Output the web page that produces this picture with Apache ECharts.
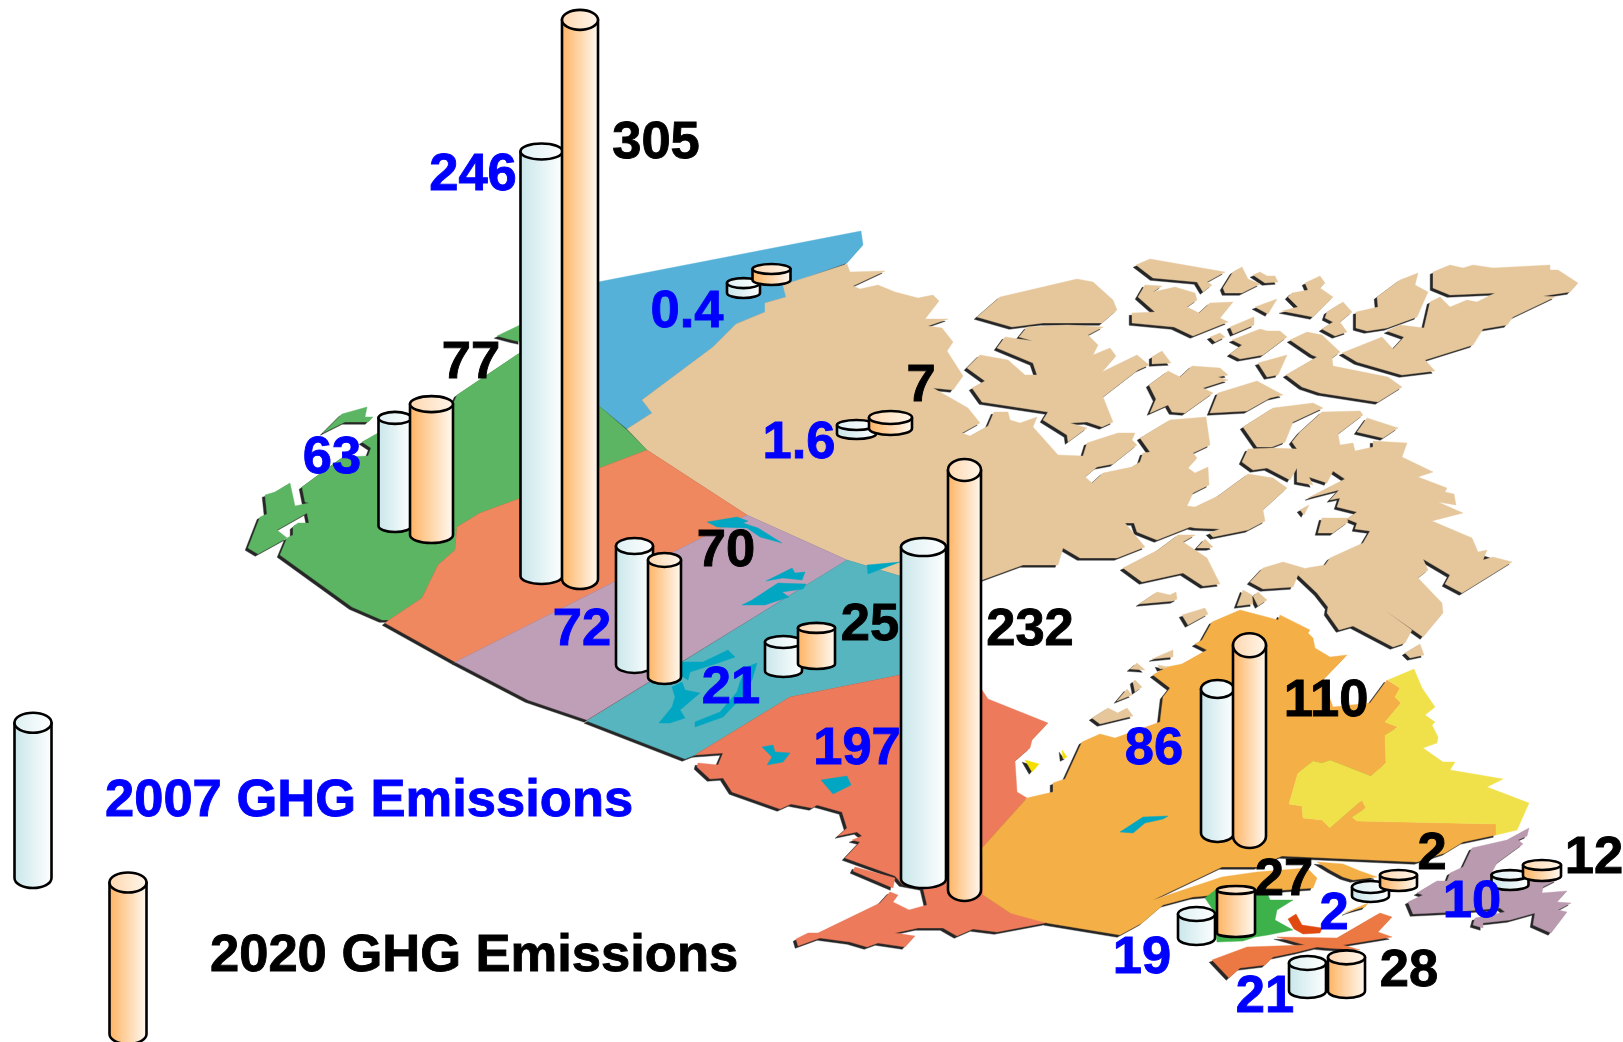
<!DOCTYPE html>
<html>
<head>
<meta charset="utf-8">
<style>html,body{margin:0;padding:0;background:#fff}#c{width:1623px;height:1042px}</style>
<script src="https://cdn.jsdelivr.net/npm/echarts@6/dist/echarts.min.js"></script>
</head>
<body>
<div id="c"></div>
<script>
// ---------- chart data ----------
const regions   = ['BC','AB','SK','MB','ON','QC','NB','NS','PE','NL','NT','YT'];
const values2007 = [63,246,72,21,197,86,19,21,2,10,1.6,0.4];
const values2020 = [77,305,70,25,232,110,27,28,2,12,7,null];
// Cylinder heights as they are drawn in the picture (the artwork is not strictly proportional)
const drawn2007 = [57.8,227,63.6,15.5,177.5,77,12.8,15,4.8,5.3,4.8,5.3];
const drawn2020 = [70,299,62.6,19.3,224.6,102,23,18,5.9,5.9,5.9,5.9];
const legendLabels = ['2007 GHG Emissions','2020 GHG Emissions'];
const legendDrawn = [83,81];

// ---------- layout on the map plane ----------
const cyl2007 = {x:[395,541.5,634.5,783.5,923.5,1217.5,1196.5,1307.5,1370.5,1510,856.5,743.5],
                 y:[532,584,673,677,888,842,945,998,902,890,439,298],
                 w:[33,42,37,37,45,33,37,37,37,37,39,33],
                 ry:[6,8,8,6,9,9,7,7,6,5,5,5]};
const cyl2020 = {x:[431.5,580,664.5,816.5,964.5,1249.5,1236,1346.5,1398.5,1542,890.5,771.5],
                 y:[543,589,684,669,901,848,937,998,891,881,435,285],
                 w:[43,36,33,37,33,33,38,37,37,38,43,38],
                 ry:[8,10,7,5,11,12,4,7,5,5,6.5,5]};
const lab2007 = {x:[332,473,582,731,857,1154,1142,1265,1334,1472,799,687],
                 y:[459,176,631,689,750,750,959,998,915,903,444,313]};
const lab2020 = {x:[471,656,726,870,1030,1326,1284,1409,1432,1594,921,0],
                 y:[364,144,552,626,631,702,881,972,855,859,387,0]};
const legendCyl = {x:[33,128], y:[888,1044], w:[37,37], ry:[10,10]};
const legendText = {x:[105,210], y:[802,957]};

// ---------- map outlines ----------
const bc = [[280,555],[352,607],[382,620],[389,620],[422,598],[438,565],[455,550],[457,527],[480,513],[521,498],[647,450],[627,430],[598,405],[560,370],[521,352],[457,395],[454,402],[378,433],[362,442],[371,448],[368,456],[343,457],[302,487],[305,502],[309,503],[295,506],[290,483],[275,492],[265,495],[267,514],[260,517],[248,548],[258,554],[287,538],[277,530],[307,513],[309,523],[298,523],[293,527],[293,535],[287,538]];
const bcIsland1 = [[367,407],[365,417],[373,417],[368,422],[345,422],[323,433],[338,418],[342,414]];
const bcIsland2 = [[497,336],[520,325],[521,342],[512,340]];
const yukon = [[861,231],[863,245],[847,263],[785,285],[786,297],[765,303],[765,312],[736,324],[713,347],[642,400],[652,413],[627,429],[598,405],[580,400],[580,285],[598,282]];
const alberta = [[389,620],[422,598],[438,565],[455,550],[457,527],[480,513],[521,498],[647,450],[747,515],[455,662],[385,623]];
const sask = [[455,662],[747,515],[847,560],[587,720],[528,700]];
const manitoba = [[587,721],[847,560],[867,566],[900,576],[945,585],[945,670],[900,675],[790,697],[695,755],[685,759]];
const ontario = [[695,755],[723,753],[718,765],[698,763],[697,767],[710,779],[723,778],[732,792],[780,809],[791,804],[812,808],[817,805],[842,812],[847,828],[838,836],[857,832],[862,836],[852,840],[860,842],[845,858],[895,876],[902,884],[923,888],[927,905],[909,910],[893,902],[898,895],[890,892],[880,903],[818,933],[808,933],[796,939],[798,946],[820,938],[850,942],[867,947],[878,943],[905,947],[915,936],[895,933],[918,928],[943,928],[957,936],[973,929],[997,932],[1045,923],[1048,917],[1010,913],[983,895],[982,848],[1027,798],[1017,792],[1015,761],[1030,748],[1032,740],[1048,723],[988,699],[982,690],[960,660],[900,675],[790,697]];
const ontarioSliver = [[855,867],[895,878],[893,888],[853,871]];
const quebec = [[982,848],[1027,798],[1053,792],[1053,783],[1065,779],[1082,742],[1100,734],[1115,738],[1160,722],[1163,697],[1170,688],[1153,675],[1167,667],[1182,664],[1207,650],[1195,644],[1202,640],[1212,622],[1240,610],[1278,620],[1280,615],[1310,630],[1308,633],[1313,638],[1315,648],[1330,657],[1347,655],[1323,680],[1333,707],[1370,703],[1387,680],[1400,688],[1395,697],[1401,703],[1385,722],[1398,727],[1385,735],[1386,763],[1371,776],[1330,760],[1322,763],[1313,761],[1298,773],[1289,804],[1302,806],[1303,818],[1322,820],[1330,828],[1362,800],[1366,808],[1352,817],[1357,821],[1496,824],[1496,835],[1463,842],[1445,853],[1417,862],[1282,856],[1257,867],[1222,867],[1153,900],[1222,877],[1257,872],[1307,868],[1317,878],[1313,888],[1255,892],[1215,895],[1193,897],[1163,905],[1142,923],[1120,935],[1047,923],[1010,913],[983,895]];
const gaspe1 = [[1317,862],[1343,864],[1360,871],[1377,877],[1353,880],[1343,877],[1330,870]];
const gaspe2 = [[1345,913],[1368,903],[1365,907],[1347,912]];
const labrador = [[1388,680],[1414,669],[1422,688],[1435,707],[1425,715],[1435,722],[1432,725],[1438,737],[1437,743],[1423,748],[1443,762],[1455,762],[1450,770],[1503,779],[1487,787],[1529,803],[1517,830],[1496,835],[1496,824],[1357,821],[1352,817],[1366,808],[1362,800],[1330,828],[1322,820],[1303,818],[1302,806],[1289,804],[1298,773],[1313,761],[1322,763],[1330,760],[1371,776],[1386,763],[1385,735],[1398,727],[1385,722],[1401,703],[1395,697],[1400,688]];
const newfoundland = [[1472,848],[1507,840],[1529,828],[1527,836],[1518,840],[1523,844],[1497,863],[1492,872],[1523,877],[1557,880],[1543,887],[1542,893],[1567,891],[1557,902],[1571,903],[1558,910],[1567,912],[1551,933],[1533,925],[1535,913],[1510,920],[1483,923],[1483,928],[1473,925],[1475,918],[1505,912],[1500,908],[1455,912],[1413,914],[1408,902],[1423,895],[1417,893],[1437,881],[1447,881],[1450,873],[1463,867]];
const newBrunswick = [[1205,898],[1218,888],[1255,895],[1268,895],[1270,900],[1293,900],[1277,910],[1275,920],[1293,930],[1268,935],[1255,937],[1243,941],[1217,942],[1213,910]];
const novaScotia = [[1212,960],[1247,947],[1305,945],[1277,937],[1337,938],[1380,913],[1392,917],[1378,932],[1392,937],[1343,945],[1360,950],[1327,948],[1317,947],[1297,952],[1273,957],[1265,965],[1240,968],[1229,978]];
const pei = [[1288,919],[1296,914],[1302,925],[1322,928],[1320,933],[1303,934],[1294,929]];
const yellowBits = [[[1025,760],[1039,764],[1032,772]],[[1062,750],[1067,757],[1063,759]]];
const tanMain = [[627,429],[652,413],[642,400],[713,347],[736,324],[765,312],[765,303],[786,297],[783,285],[847,264],[850,272],[885,271],[853,286],[860,289],[878,285],[895,292],[918,298],[933,295],[939,301],[925,319],[948,319],[928,326],[942,328],[953,342],[947,351],[963,376],[953,390],[933,388],[968,408],[980,423],[962,433],[970,436],[988,426],[994,412],[1008,412],[1010,420],[1020,423],[1037,417],[1033,427],[1058,455],[1083,456],[1087,443],[1118,433],[1135,433],[1132,440],[1137,445],[1113,464],[1097,467],[1085,477],[1092,483],[1103,473],[1132,467],[1140,462],[1143,453],[1150,452],[1140,438],[1170,420],[1206,417],[1210,445],[1193,453],[1197,458],[1188,468],[1195,473],[1208,467],[1209,485],[1193,493],[1187,506],[1195,507],[1218,496],[1248,474],[1273,478],[1287,488],[1263,510],[1265,521],[1248,530],[1213,537],[1209,533],[1220,529],[1195,528],[1190,527],[1157,540],[1137,532],[1134,523],[1125,523],[1145,547],[1117,558],[1080,558],[1063,548],[1058,565],[1023,565],[982,580],[900,576],[867,566],[847,560],[747,515],[647,450]];
const baffin = [[1242,462],[1248,449],[1273,448],[1297,449],[1292,442],[1300,432],[1322,412],[1360,411],[1363,415],[1338,434],[1340,445],[1353,443],[1355,451],[1373,447],[1373,441],[1407,443],[1402,457],[1433,472],[1418,477],[1447,488],[1445,492],[1454,494],[1456,505],[1438,502],[1463,513],[1432,521],[1472,538],[1478,552],[1487,550],[1483,560],[1493,557],[1512,562],[1462,593],[1445,584],[1450,575],[1423,559],[1428,570],[1418,578],[1442,603],[1443,613],[1423,637],[1383,609],[1412,630],[1405,643],[1393,647],[1353,626],[1339,630],[1327,613],[1328,607],[1317,593],[1298,575],[1307,568],[1325,565],[1330,558],[1363,543],[1370,531],[1355,529],[1357,523],[1347,519],[1357,512],[1337,507],[1340,498],[1330,500],[1339,490],[1308,498],[1345,479],[1333,471],[1327,483],[1309,477],[1313,485],[1297,482],[1297,468],[1290,480],[1267,468],[1253,470]];
// Baffin's shadow: the zigzag east coast casts almost none in the artwork
const baffinShadow = [[1242,462],[1248,449],[1273,448],[1297,449],[1292,442],[1300,432],[1322,412],[1360,411],[1363,415],[1338,434],[1340,445],[1353,443],[1355,451],[1373,447],[1373,441],[1407,443],[1402,457],[1410,480],[1425,510],[1428,525],[1460,545],[1512,562],[1462,593],[1445,584],[1450,575],[1423,559],[1428,570],[1418,578],[1442,603],[1443,613],[1423,637],[1383,609],[1412,630],[1405,643],[1393,647],[1353,626],[1339,630],[1327,613],[1328,607],[1317,593],[1298,575],[1307,568],[1325,565],[1330,558],[1363,543],[1370,531],[1355,529],[1357,523],[1347,519],[1357,512],[1337,507],[1340,498],[1330,500],[1339,490],[1308,498],[1345,479],[1333,471],[1327,483],[1309,477],[1313,485],[1297,482],[1297,468],[1290,480],[1267,468],[1253,470]];
const tanIslands = [
 [[977,317],[1000,297],[1077,279],[1093,282],[1113,300],[1117,310],[1102,323],[1043,323],[1012,327]],
 [[1027,327],[1019,337],[1033,341],[1005,337],[997,348],[1033,363],[1037,375],[1025,375],[1008,360],[980,355],[967,368],[985,381],[972,388],[982,402],[1048,412],[1043,420],[1067,435],[1068,442],[1087,428],[1070,423],[1087,422],[1102,427],[1113,422],[1103,397],[1138,370],[1149,365],[1137,355],[1102,372],[1116,356],[1110,348],[1093,355],[1098,345],[1088,335],[1103,327],[1067,325]],
 [[1136,265],[1150,259],[1225,272],[1207,282],[1212,285],[1203,292],[1197,282],[1153,278]],
 [[1145,285],[1162,286],[1153,292],[1175,287],[1195,293],[1197,300],[1187,307],[1199,313],[1210,303],[1233,302],[1220,318],[1228,322],[1193,336],[1174,327],[1132,323],[1132,313],[1155,312],[1138,297]],
 [[1233,272],[1242,267],[1248,279],[1260,284],[1242,293],[1225,293],[1223,288]],
 [[1253,275],[1260,272],[1267,276],[1275,276],[1278,282],[1265,283]],
 [[1305,283],[1320,276],[1325,283],[1320,288],[1333,297],[1313,317],[1282,311],[1298,307],[1288,297],[1292,293],[1308,290]],
 [[1255,307],[1277,299],[1268,314]],
 [[1327,312],[1343,302],[1352,312],[1340,322],[1347,332],[1335,336],[1322,329],[1333,322],[1325,318]],
 [[1377,297],[1400,280],[1418,273],[1415,285],[1428,292],[1417,317],[1387,328],[1367,331],[1356,328],[1356,312],[1378,307]],
 [[1433,272],[1450,265],[1463,268],[1473,265],[1493,268],[1550,265],[1550,270],[1558,270],[1578,283],[1570,292],[1543,296],[1555,297],[1513,317],[1507,325],[1483,329],[1473,345],[1425,360],[1435,371],[1402,375],[1357,362],[1342,353],[1382,337],[1393,349],[1404,337],[1387,331],[1400,325],[1424,328],[1430,302],[1440,297],[1450,307],[1467,300],[1477,302],[1495,293],[1450,295],[1433,288]],
 [[1258,363],[1287,355],[1278,375],[1267,377]],
 [[1230,327],[1254,317],[1254,325],[1233,334]],
 [[1210,337],[1220,333],[1225,337],[1215,342]],
 [[1232,340],[1260,329],[1267,331],[1280,331],[1287,337],[1263,355],[1240,359],[1230,354],[1242,345]],
 [[1290,340],[1307,332],[1322,335],[1340,352],[1332,358],[1333,366],[1388,377],[1402,387],[1378,402],[1320,393],[1302,387],[1286,375],[1317,357],[1312,355]],
 [[1152,357],[1162,351],[1171,363],[1152,364]],
 [[1149,385],[1168,371],[1180,377],[1192,366],[1220,368],[1228,375],[1218,377],[1228,380],[1203,388],[1213,393],[1185,413],[1172,412],[1168,405],[1150,413],[1156,399]],
 [[1218,393],[1257,381],[1283,395],[1270,398],[1247,411],[1210,413]],
 [[1243,427],[1273,408],[1313,403],[1323,408],[1293,422],[1285,442],[1272,447],[1257,447]],
 [[1322,518],[1347,518],[1348,522],[1333,533],[1318,533]],
 [[1357,432],[1367,418],[1398,428],[1383,438]],
 [[1300,510],[1309,505],[1304,515]],
 [[1123,568],[1158,550],[1178,535],[1195,535],[1183,542],[1207,558],[1220,584],[1203,586],[1183,573],[1142,582]],
 [[1197,548],[1205,539],[1213,547],[1209,548]],
 [[1250,582],[1263,568],[1283,562],[1307,569],[1298,575],[1293,587],[1263,589]],
 [[1139,604],[1157,592],[1170,595],[1176,592],[1177,599],[1173,601]],
 [[1182,615],[1205,608],[1208,614],[1188,625]],
 [[1237,606],[1243,590],[1252,595],[1253,604]],
 [[1253,596],[1258,592],[1267,600],[1258,606]],
 [[1405,653],[1420,644],[1424,655],[1410,658]],
 [[1152,659],[1173,650],[1173,657]],
 [[1158,665],[1168,667],[1160,669]],
 [[1130,669],[1137,663],[1145,670]],
 [[1133,682],[1135,680],[1142,687],[1135,692]],
 [[1117,701],[1127,689],[1132,695]],
 [[1092,718],[1108,708],[1118,713],[1127,708],[1133,716],[1100,724]]
];
const lakes = [
 [[707,522],[737,517],[748,521],[743,523],[758,528],[782,543],[760,537],[747,528],[717,527]],
 [[766,581],[792,568],[795,573],[805,572],[802,580],[783,578]],
 [[742,605],[752,600],[778,583],[806,584],[803,589],[782,592],[789,597],[765,605]],
 [[659,723],[672,707],[675,697],[672,687],[682,682],[685,690],[700,693],[680,710],[685,718],[670,723]],
 [[682,662],[703,662],[728,650],[735,657],[718,663],[690,672],[688,680],[677,673]],
 [[695,722],[720,712],[737,692],[740,682],[747,667],[757,663],[752,680],[742,697],[723,717],[695,727]],
 [[762,747],[773,745],[775,752],[790,753],[783,762],[767,765],[772,757]],
 [[821,780],[847,776],[851,785],[833,794]],
 [[1120,832],[1143,817],[1168,816],[1163,819],[1145,823],[1133,833]],
 [[867,565],[900,562],[868,574]]
];

// ---------- styles ----------
const tan='#E6C79C', shadowColor='#262626', lakeColor='#00A6C2';
const land = [
 [yukon,'#56B1D8'],[tanMain,tan],[bc,'#5BB562'],[bcIsland1,'#5BB562'],[bcIsland2,'#5BB562'],
 [alberta,'#F0885F'],[sask,'#BF9FB8'],[manitoba,'#56B5BE'],
 [ontario,'#EC7A5B'],[ontarioSliver,'#EC7A5B'],[quebec,'#F4AF46'],[gaspe1,'#F4AF46'],[gaspe2,'#F4AF46'],[labrador,'#F0E04A'],
 [newfoundland,'#B99AAE'],[newBrunswick,'#3DB14A'],[novaScotia,'#EC7944'],[pei,'#E04A10'],[baffin,tan]
].map(a=>({pts:a[0],color:a[1]}))
 .concat(tanIslands.map(p=>({pts:p,color:tan})))
 .concat(yellowBits.map(p=>({pts:p,color:'#F5DF00'})));
const water = lakes.map(p=>({pts:p,color:lakeColor}));
const noShadow = [newBrunswick, pei, labrador];
const shadows = land.filter(s=>!noShadow.includes(s.pts))
                    .map(s=>({pts:s.pts===baffin?baffinShadow:s.pts,color:shadowColor}));

const LG = (a,b)=>new echarts.graphic.LinearGradient(0,0,1,0,[{offset:0,color:a},{offset:1,color:b}]);
const pal2007 = {body:['#C8E6EA','#FFFFFF'], top:['#DDF0F3','#FFFFFF']};
const pal2020 = {body:['#FFB25F','#FFFBF6'], top:['#FFD7AE','#FFF6EC']};
const FONT = 'bold 52.5px "Liberation Sans", Arial, sans-serif';
const BLUE = '#0000FF', BLACK = '#000000';

// ---------- series renderers ----------
const chart = echarts.init(document.getElementById('c'));
function polyRender(list, dx, dy){
  return function(params, api){
    const s = list[params.dataIndex];
    const pts = s.pts.map(p=>{const c=api.coord(p);return [c[0]+dx,c[1]+dy];});
    return {type:'polygon',shape:{points:pts},silent:true,
            style:{fill:s.color,stroke:s.color,lineWidth:0.4}};
  };
}
function polySeries(name,list,dx,dy){
  return {type:'custom',name:name,coordinateSystem:'cartesian2d',xAxisIndex:0,yAxisIndex:0,silent:true,
    data:list.map(s=>s.pts[0]),encode:{x:0,y:1},renderItem:polyRender(list,dx,dy)};
}
function cylinderRender(pal){
  return function(params, api){
    const cx = api.coord([api.value(0),0])[0];
    const h = api.size([0,api.value(1)])[1];
    const bottom = chart.convertToPixel({yAxisIndex:0}, api.value(2));
    const rx = api.value(3)/2, ry = api.value(4);
    const yb = bottom-ry, yt = yb-h, l=cx-rx, r=cx+rx;
    const sty = {stroke:'#000',lineWidth:2.6,lineJoin:'round'};
    return {type:'group',silent:true,children:[
      {type:'path',shape:{pathData:`M${l} ${yt}L${r} ${yt}L${r} ${yb}A${rx} ${ry} 0 0 1 ${l} ${yb}Z`},
        style:Object.assign({fill:LG(pal.body[0],pal.body[1])},sty)},
      {type:'path',shape:{pathData:`M${l} ${yt}A${rx} ${ry} 0 1 1 ${r} ${yt}A${rx} ${ry} 0 1 1 ${l} ${yt}Z`},
        style:Object.assign({fill:LG(pal.top[0],pal.top[1])},sty)}
    ]};
  };
}
function cylSeries(name,layout,drawn,pal){
  return {type:'custom',name:name,coordinateSystem:'cartesian2d',xAxisIndex:0,yAxisIndex:1,silent:true,
    data:drawn.map((d,i)=>[layout.x[i],d,layout.y[i],layout.w[i],layout.ry[i]]),
    encode:{x:0,y:1},renderItem:cylinderRender(pal)};
}
function textSeries(name,pos,vals,color,align){
  const keep = vals.map((v,i)=>i).filter(i=>vals[i]!==null);
  return {type:'custom',name:name,coordinateSystem:'cartesian2d',xAxisIndex:0,yAxisIndex:0,silent:true,
    data:keep.map(i=>[pos.x[i],pos.y[i],String(vals[i])]),encode:{x:0,y:1},
    renderItem:function(params,api){
      const c = api.coord([api.value(0),api.value(1)]);
      return {type:'text',silent:true,style:{x:c[0],y:c[1],text:String(api.value(2)),fill:color,font:FONT,
              stroke:color,lineWidth:0.9,align:align,verticalAlign:'middle'}};
    }};
}
const legend2007 = {x:[legendText.x[0]],y:[legendText.y[0]]}, legend2020 = {x:[legendText.x[1]],y:[legendText.y[1]]};
const one = (o,i)=>({x:[o.x[i]],y:[o.y[i]],w:[o.w[i]],ry:[o.ry[i]]});

chart.setOption({
  animation:false,
  backgroundColor:'#fff',
  grid:{left:0,right:0,top:0,bottom:0},
  xAxis:[{type:'value',min:0,max:1623,show:false}],
  yAxis:[{type:'value',min:0,max:1042,inverse:true,show:false},
         {type:'value',name:'GHG (drawn scale)',min:0,max:557.2,show:false}],
  series:[
    polySeries('shadow',shadows,-2.8,2.3),
    polySeries('land',land,0,0),
    polySeries('lakes',water,0,0),
    cylSeries('2007 GHG Emissions',cyl2007,drawn2007,pal2007),
    cylSeries('2020 GHG Emissions',cyl2020,drawn2020,pal2020),
    cylSeries('legend 2007',one(legendCyl,0),[legendDrawn[0]],pal2007),
    cylSeries('legend 2020',one(legendCyl,1),[legendDrawn[1]],pal2020),
    textSeries('labels 2007',lab2007,values2007,BLUE,'center'),
    textSeries('labels 2020',lab2020,values2020,BLACK,'center'),
    textSeries('legend text 2007',legend2007,[legendLabels[0]],BLUE,'left'),
    textSeries('legend text 2020',legend2020,[legendLabels[1]],BLACK,'left')
  ]
});
</script>
</body>
</html>
